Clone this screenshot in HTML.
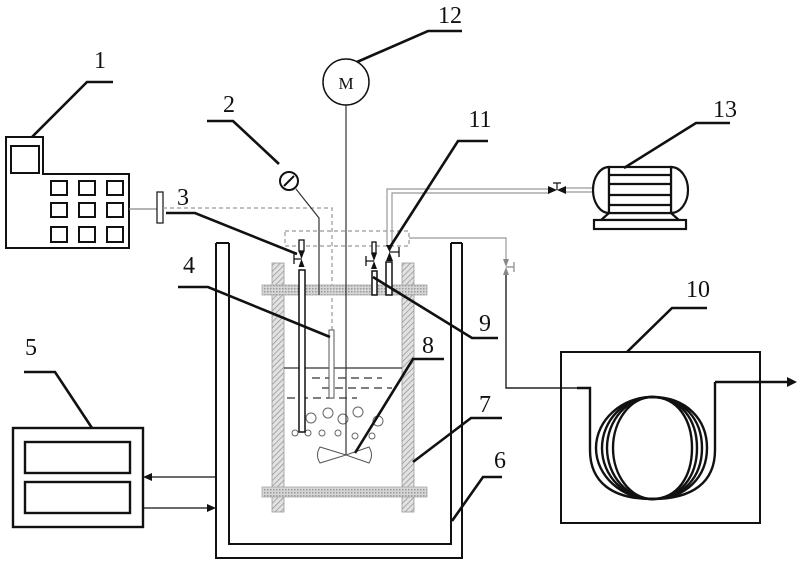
<!DOCTYPE html>
<html>
<head>
<meta charset="utf-8">
<style>
html,body{margin:0;padding:0;background:#fff;}
svg{display:block;}
text{font-family:"Liberation Serif",serif;fill:#111;}
</style>
</head>
<body>
<svg width="800" height="564" viewBox="0 0 800 564" xmlns="http://www.w3.org/2000/svg">
<defs>
<pattern id="diag" width="4" height="4" patternUnits="userSpaceOnUse" patternTransform="rotate(45)">
<rect width="4" height="4" fill="#e2e2e2"/>
<line x1="0" y1="0" x2="0" y2="4" stroke="#8a8a8a" stroke-width="1.3"/>
</pattern>
<pattern id="cross" width="3" height="3" patternUnits="userSpaceOnUse">
<rect width="3" height="3" fill="#d6d6d6"/>
<rect width="1.5" height="1.5" fill="#999"/>
</pattern>
</defs>
<rect width="800" height="564" fill="#fff"/>

<!-- Device 1 -->
<g fill="none" stroke="#111" stroke-width="2">
<path d="M6,137 H43 V174 H129 V248 H6 Z"/>
<rect x="11" y="146" width="28" height="27"/>
<rect x="51" y="181" width="16" height="14"/><rect x="79" y="181" width="16" height="14"/><rect x="107" y="181" width="16" height="14"/>
<rect x="51" y="203" width="16" height="14"/><rect x="79" y="203" width="16" height="14"/><rect x="107" y="203" width="16" height="14"/>
<rect x="51" y="227" width="16" height="15"/><rect x="79" y="227" width="16" height="15"/><rect x="107" y="227" width="16" height="15"/>
</g>
<line x1="129" y1="209" x2="157" y2="209" stroke="#888" stroke-width="1.2"/>
<rect x="157" y="192" width="6" height="31" fill="#fff" stroke="#222" stroke-width="1.3"/>

<!-- dashed signal lines -->
<g fill="none" stroke="#999" stroke-width="1.2" stroke-dasharray="4,3">
<path d="M163,208 H332 V330"/>
<rect x="285" y="231" width="124" height="15"/>
</g>

<!-- Tank 6 -->
<g fill="none" stroke="#111" stroke-width="2">
<path d="M216,243 V558 H462 V243"/>
<path d="M229,243 V544 H451 V243"/>
<path d="M216,243 H229 M451,243 H462"/>
</g>

<!-- frame 7 -->
<rect x="272" y="263" width="12" height="249" fill="url(#diag)" stroke="#999" stroke-width="0.8"/>
<rect x="402" y="263" width="12" height="249" fill="url(#diag)" stroke="#999" stroke-width="0.8"/>
<rect x="262" y="285" width="165" height="10" fill="url(#cross)" stroke="#aaa" stroke-width="0.8"/>
<rect x="262" y="487" width="165" height="10" fill="url(#cross)" stroke="#aaa" stroke-width="0.8"/>

<!-- liquid -->
<line x1="284" y1="368" x2="402" y2="368" stroke="#333" stroke-width="1.2"/>
<g stroke="#333" stroke-width="1.2" stroke-dasharray="8,5">
<line x1="312" y1="378" x2="382" y2="378"/>
<line x1="322" y1="388" x2="392" y2="388"/>
<line x1="287" y1="398" x2="357" y2="398"/>
</g>

<!-- bubbles -->
<g fill="none" stroke="#666" stroke-width="1">
<circle cx="311" cy="418" r="5"/><circle cx="328" cy="413" r="5"/><circle cx="343" cy="419" r="5"/>
<circle cx="358" cy="412" r="5"/><circle cx="378" cy="421" r="5"/>
<circle cx="295" cy="433" r="3"/><circle cx="308" cy="433" r="3"/><circle cx="322" cy="433" r="3"/>
<circle cx="338" cy="433" r="3"/><circle cx="355" cy="436" r="3"/><circle cx="372" cy="436" r="3"/>
</g>

<!-- shaft & impeller -->
<line x1="346" y1="105" x2="346" y2="455" stroke="#333" stroke-width="1.2"/>
<g fill="none" stroke="#555" stroke-width="1">
<path d="M346,455 L320,447 Q315,455 320,463 Z"/>
<path d="M346,455 L369,447 Q374,455 369,463 Z"/>
</g>

<!-- probe 4 -->
<rect x="329" y="330" width="5" height="68" fill="#fff" stroke="#555" stroke-width="1"/>

<!-- gauge 2 -->
<polyline points="296,189 319,218 319,295" fill="none" stroke="#333" stroke-width="1.2"/>
<circle cx="289" cy="181" r="9" fill="#fff" stroke="#111" stroke-width="2"/>
<line x1="284" y1="186" x2="294" y2="176" stroke="#111" stroke-width="2"/>

<!-- motor 12 -->
<circle cx="346" cy="82" r="23" fill="#fff" stroke="#111" stroke-width="1.5"/>
<text x="346" y="89" font-size="17" text-anchor="middle">M</text>

<!-- tube 3 with valve -->
<rect x="299" y="240" width="5" height="11" fill="#fff" stroke="#111" stroke-width="1.3"/>
<path d="M298.5,251 L304.5,251 L301.5,259 Z M298.5,267 L304.5,267 L301.5,259 Z" fill="#111"/>
<path d="M301.5,259 H294 M294,254 V264" stroke="#111" stroke-width="1.3" fill="none"/>
<rect x="299" y="270" width="6" height="162" fill="#fff" stroke="#111" stroke-width="1.5"/>

<!-- gray pipes to right -->
<g fill="none" stroke="#999" stroke-width="1.2">
<path d="M387,246 V189 H549"/>
<path d="M392,246 V193 H549"/>
<path d="M566,188 H593 M566,192 H593"/>
<path d="M409,238 H506 V259"/>
</g>
<!-- valve to motor 13 -->
<path d="M548,186 L548,194 L557,190 Z M566,186 L566,194 L557,190 Z" fill="#111"/>
<path d="M557,190 V183 M553,183 H561" stroke="#111" stroke-width="1.2"/>

<!-- right line valve -->
<path d="M503,259 L509,259 L506,267 Z M503,275 L509,275 L506,267 Z" fill="#888"/>
<path d="M506,267 H514 M514,262 V272" stroke="#888" stroke-width="1.2"/>
<path d="M506,275 V388 H590" fill="none" stroke="#222" stroke-width="1.4"/>

<!-- tube 9 with valve -->
<rect x="372" y="242" width="4" height="11" fill="#fff" stroke="#111" stroke-width="1.3"/>
<path d="M371,253 L377,253 L374,261 Z M371,269 L377,269 L374,261 Z" fill="#111"/>
<path d="M374,261 H366 M366,256 V266" stroke="#111" stroke-width="1.3" fill="none"/>
<rect x="372" y="271" width="5" height="24" fill="#fff" stroke="#111" stroke-width="1.5"/>

<!-- tube 11 with valve -->
<path d="M386,245 L393,245 L389.5,252 Z M386,261 L393,261 L389.5,252 Z" fill="#111"/>
<path d="M389.5,252 H399 M399,247 V257" stroke="#111" stroke-width="1.3" fill="none"/>
<rect x="386" y="262" width="6" height="33" fill="#fff" stroke="#111" stroke-width="1.5"/>

<!-- Motor 13 -->
<g fill="#fff" stroke="#111" stroke-width="2.2">
<path d="M609,167 A16,23 0 0 0 609,213 Z"/>
<path d="M671,167 A17,23 0 0 1 671,213 Z"/>
<path d="M609,213 L601,220 H679 L671,213 Z"/>
<rect x="594" y="220" width="92" height="9"/>
<rect x="609" y="167" width="62" height="46"/>
</g>
<g stroke="#111" stroke-width="2.2">
<line x1="609" y1="175" x2="671" y2="175"/>
<line x1="609" y1="184" x2="671" y2="184"/>
<line x1="609" y1="195" x2="671" y2="195"/>
<line x1="609" y1="205" x2="671" y2="205"/>
</g>

<!-- Box 5 -->
<g fill="none" stroke="#111" stroke-width="2.4">
<rect x="13" y="428" width="130" height="99"/>
<rect x="25" y="442" width="105" height="31"/>
<rect x="25" y="482" width="105" height="31"/>
</g>
<g stroke="#111" stroke-width="1.3">
<line x1="150" y1="477" x2="216" y2="477"/>
<line x1="143" y1="508" x2="209" y2="508"/>
</g>
<path d="M143,477 L152,473 L152,481 Z" fill="#111"/>
<path d="M216,508 L207,504 L207,512 Z" fill="#111"/>

<!-- Coil box 10 -->
<rect x="561" y="352" width="199" height="171" fill="none" stroke="#111" stroke-width="2"/>
<g fill="none" stroke="#111" stroke-width="2.4">
<path d="M577,388 H590 V450 C590,482 612,499 652,499"/>
<path d="M715,382 V450 C715,482 693,499 652,499"/>
<path d="M715,382 H790"/>
<path d="M652,397 C622,397 596,420 596,448 C596,476 622,499 652,499 C678,499 692,476 692,448 C692,420 678,397 652,397 Z"/>
<path d="M652,397 C625,397 602,420 602,448 C602,476 625,499 652,499 C681,499 697,476 697,448 C697,420 681,397 652,397 Z"/>
<path d="M652,397 C628,397 607,420 607,448 C607,476 628,499 652,499 C684,499 702,476 702,448 C702,420 684,397 652,397 Z"/>
<path d="M652,397 C631,397 613,420 613,448 C613,476 631,499 652,499 C687,499 707,476 707,448 C707,420 687,397 652,397 Z"/>
</g>
<path d="M797,382 L787,377 L787,387 Z" fill="#111"/>

<!-- Leader lines -->
<g fill="none" stroke="#111" stroke-width="2.6">
<polyline points="32,137 87,82 113,82"/>
<polyline points="279,164 233,121 207,121"/>
<polyline points="357,62 428,31 462,31"/>
<polyline points="390,247 458,141 488,141"/>
<polyline points="624,168 696,123 730,123"/>
<polyline points="297,254 195,213 166,213"/>
<polyline points="330,337 208,287 178,287"/>
<polyline points="92,428 55,372 24,372"/>
<polyline points="355,453 413,359 444,359"/>
<polyline points="373,277 472,338 498,338"/>
<polyline points="413,462 471,418 502,418"/>
<polyline points="452,521 483,477 502,477"/>
<polyline points="627,352 672,308 707,308"/>
</g>

<!-- Labels -->
<g font-size="24" text-anchor="middle">
<text x="100" y="68">1</text>
<text x="229" y="112">2</text>
<text x="450" y="23">12</text>
<text x="480" y="127">11</text>
<text x="725" y="117">13</text>
<text x="183" y="205">3</text>
<text x="189" y="273">4</text>
<text x="31" y="355">5</text>
<text x="428" y="353">8</text>
<text x="485" y="331">9</text>
<text x="698" y="297">10</text>
<text x="485" y="412">7</text>
<text x="500" y="468">6</text>
</g>
</svg>
</body>
</html>
